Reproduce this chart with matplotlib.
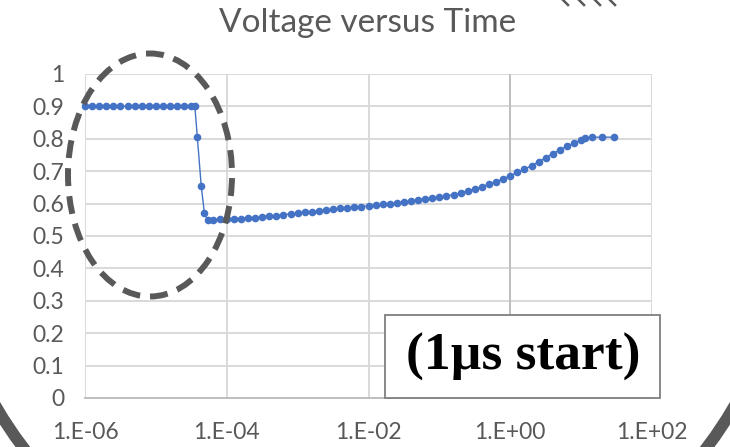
import numpy as np
import matplotlib
matplotlib.use('Agg')
import matplotlib.pyplot as plt
from matplotlib.patches import Ellipse, Rectangle
from matplotlib.lines import Line2D

# time as log10(seconds), voltage in V
time_exp = [-6.0, -5.9, -5.8, -5.7, -5.6, -5.5, -5.4, -5.3, -5.2, -5.1,
            -5.0, -4.9, -4.8, -4.7, -4.6, -4.5, -4.45,
            -4.415, -4.36, -4.316, -4.27,
            -4.2, -4.1, -4.0, -3.9, -3.8, -3.7, -3.6, -3.5, -3.4, -3.3,
            -3.2, -3.1, -3.0, -2.9, -2.8, -2.7, -2.6, -2.5, -2.4, -2.3,
            -2.2, -2.1, -2.0, -1.9, -1.8, -1.7, -1.6, -1.5, -1.4, -1.3,
            -1.2, -1.1, -1.0, -0.9, -0.8, -0.7, -0.6, -0.5, -0.4, -0.3,
            -0.2, -0.1, 0.0, 0.1, 0.2, 0.3, 0.4, 0.5, 0.6, 0.7,
            0.8, 0.9, 1.0, 1.06, 1.16, 1.30, 1.47]
voltage = [0.9, 0.9, 0.9, 0.9, 0.9, 0.9, 0.9, 0.9, 0.9, 0.9,
           0.9, 0.9, 0.9, 0.9, 0.9, 0.9, 0.9,
           0.805, 0.654, 0.572, 0.549,
           0.550, 0.551, 0.552, 0.553, 0.554, 0.556, 0.557, 0.559, 0.561, 0.563,
           0.566, 0.568, 0.570, 0.573, 0.575, 0.578, 0.580, 0.583, 0.585, 0.587,
           0.589, 0.591, 0.593, 0.595, 0.598, 0.600, 0.603, 0.605, 0.608, 0.611,
           0.614, 0.617, 0.620, 0.624, 0.628, 0.633, 0.639, 0.645, 0.652, 0.660,
           0.668, 0.676, 0.686, 0.696, 0.706, 0.717, 0.729, 0.742, 0.754, 0.766,
           0.777, 0.787, 0.796, 0.802, 0.805, 0.805, 0.805]

x_ticks = [1e-6, 1e-4, 1e-2, 1e0, 1e2]
x_labels = ['1.E-06', '1.E-04', '1.E-02', '1.E+00', '1.E+02']
y_ticks = [0, 0.1, 0.2, 0.3, 0.4, 0.5, 0.6, 0.7, 0.8, 0.9, 1]
y_labels = ['0', '0.1', '0.2', '0.3', '0.4', '0.5', '0.6', '0.7', '0.8', '0.9', '1']

plt.rcParams['font.family'] = ['Lato', 'DejaVu Sans']
W, H = 730, 447
fig = plt.figure(figsize=(W / 100, H / 100), dpi=100)

ax = fig.add_axes([85 / W, 1 - 398 / H, (652 - 85) / W, (398 - 74) / H])
t = 10 ** np.array(time_exp)
ax.plot(t, voltage, color='#4472C4', lw=1.0, marker='o', ms=5.5,
        markeredgewidth=0, zorder=3, clip_on=False)

ax.set_xscale('log')
ax.set_xlim(1e-6, 1e2)
ax.set_ylim(0, 1)
ax.set_xticks(x_ticks)
ax.set_xticklabels(x_labels)
ax.xaxis.set_minor_locator(matplotlib.ticker.NullLocator())
ax.set_yticks(y_ticks)
ax.set_yticklabels(y_labels)
ax.tick_params(length=0, labelsize=16.5, labelcolor='#595959')
ax.tick_params(axis='y', pad=15)
ax.tick_params(axis='x', pad=17)
ax.grid(True, color='#d9d9d9', lw=1.4)
ax.set_axisbelow(True)
for s in ['top', 'right', 'left']:
    ax.spines[s].set_visible(False)
ax.spines['bottom'].set_color('#bfbfbf')
ax.spines['bottom'].set_linewidth(1.4)
# value axis crosses at 1
ax.axvline(1, color='#bfbfbf', lw=1.4, zorder=1)

fig.text(368 / W, 1 - 32 / H, 'Voltage versus Time', ha='center',
         va='baseline', fontsize=24, color='#595959')

# dashed ring around the start of the trace
fig.add_artist(Ellipse((150 / W, 1 - 175 / H), 164 / W, 243 / H,
                       transform=fig.transFigure, fill=False,
                       edgecolor='#595959', lw=4.3, linestyle=(0, (3.0, 1.7)),
                       zorder=5))

# label box
fig.add_artist(Rectangle((385 / W, 1 - 398 / H), 275 / W, 83 / H,
                         transform=fig.transFigure, facecolor='white',
                         edgecolor='#7f7f7f', lw=1.3, zorder=5))
fig.text(523 / W, 1 - 357 / H, '(1\u00b5s start)', ha='center', va='center',
         fontsize=38.5, fontweight='bold', family=['Liberation Serif'],
         color='black', zorder=6)

# slide frame
fig.add_artist(Ellipse((365 / W, 1 - 190 / H), 2 * 428 / W, 2 * 428 / H,
                       transform=fig.transFigure, fill=False,
                       edgecolor='#595959', lw=8.5, zorder=4))
for x0 in [563, 579, 595, 610]:
    fig.add_artist(Line2D([x0 / W, (x0 + 5) / W], [1.0, 1 - 5 / H],
                          transform=fig.transFigure, color='#595959',
                          lw=1.8, zorder=4))

fig.savefig('out.png', dpi=100)
